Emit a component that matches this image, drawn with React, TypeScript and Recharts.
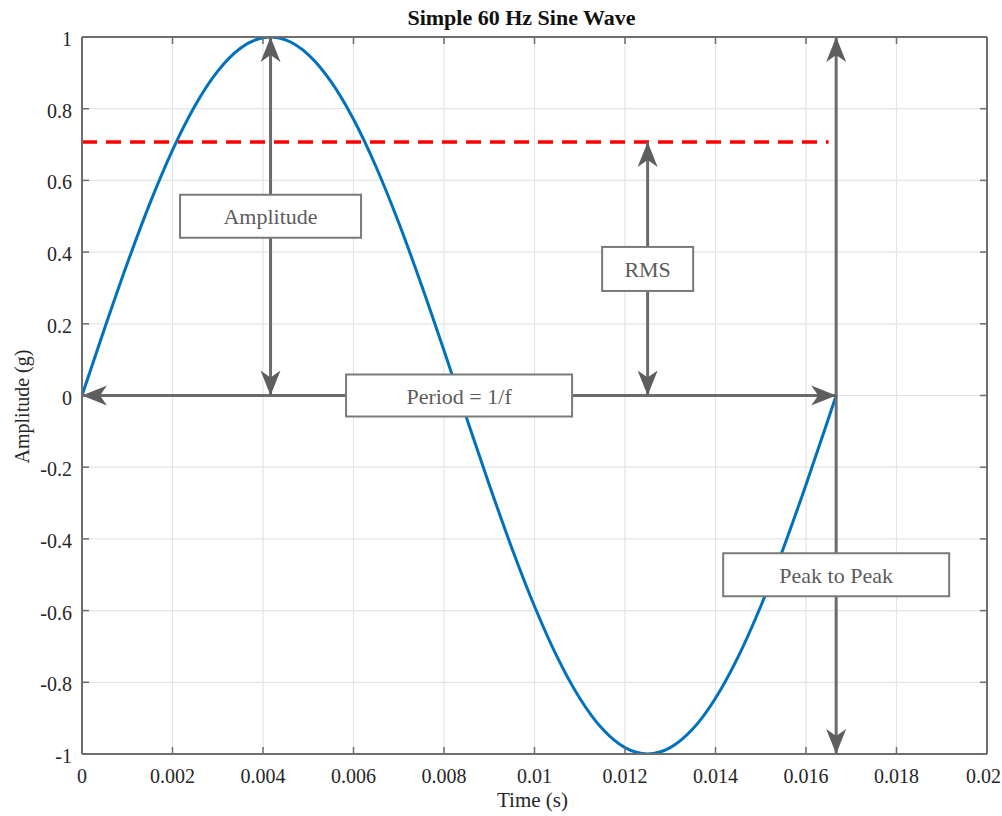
import React from 'react';
import {
  ComposedChart,
  Line,
  Scatter,
  XAxis,
  YAxis,
  CartesianGrid,
} from 'recharts';

// ---- data ----
const timeValues = [
  0, 0.0005, 0.001, 0.0015, 0.002, 0.0025, 0.003, 0.0035, 0.004, 0.0041667,
  0.0045, 0.005, 0.0055, 0.006, 0.0065, 0.007, 0.0075, 0.008, 0.0083333,
  0.0085, 0.009, 0.0095, 0.01, 0.0105, 0.011, 0.0115, 0.012, 0.0125, 0.013,
  0.0135, 0.014, 0.0145, 0.015, 0.0155, 0.016, 0.0165, 0.0166667,
];
const amplitudeValues = [
  0, 0.1874, 0.3681, 0.5358, 0.6845, 0.809, 0.9048, 0.9686, 0.998, 1,
  0.9921, 0.9511, 0.8763, 0.7705, 0.6374, 0.4818, 0.309, 0.1253, 0,
  -0.0628, -0.2487, -0.4258, -0.5878, -0.729, -0.8443, -0.9298, -0.9823, -1, -0.9823,
  -0.9298, -0.8443, -0.729, -0.5878, -0.4258, -0.2487, -0.0628, 0,
];
const rmsX = [0, 0.0165];
const rmsValue = 0.7071;

const xTicks = [0, 0.002, 0.004, 0.006, 0.008, 0.01, 0.012, 0.014, 0.016, 0.018, 0.02];
const yTicks = [-1, -0.8, -0.6, -0.4, -0.2, 0, 0.2, 0.4, 0.6, 0.8, 1];

const amplitudeArrow = [
  { x: 0.0041667, y: 0, dir: 'down' },
  { x: 0.0041667, y: 1, dir: 'up' },
];
const rmsArrow = [
  { x: 0.0125, y: 0, dir: 'down' },
  { x: 0.0125, y: 0.7071, dir: 'up' },
];
const periodArrow = [
  { x: 0, y: 0, dir: 'left' },
  { x: 0.0166667, y: 0, dir: 'right' },
];
const peakArrow = [
  { x: 0.0166667, y: -1, dir: 'down' },
  { x: 0.0166667, y: 1, dir: 'up' },
];

const annotationLabels = ['Amplitude', 'RMS', 'Period = 1/f', 'Peak to Peak'];
const annotationX = [0.0041667, 0.0125, 0.0083333, 0.0166667];
const annotationY = [0.5, 0.353, 0, -0.5];

const titleText = 'Simple 60 Hz Sine Wave';
const xLabelText = 'Time (s)';
const yLabelText = 'Amplitude (g)';

// ---- derived tables ----
const sineData = timeValues.map((t, i) => ({ x: t, y: amplitudeValues[i] }));
const rmsData = rmsX.map((t) => ({ x: t, y: rmsValue }));
const boxData = annotationLabels.map((label, i) => ({
  x: annotationX[i],
  y: annotationY[i],
  label,
}));

// ---- styles ----
const FONT = '"Liberation Serif", "Times New Roman", serif';
const AXIS_COLOR = '#6e6e6e';
const TICK_TEXT = '#262626';
const ARROW_COLOR = '#6b6b6b';
const BOX_SIZES: Record<string, [number, number]> = {
  Amplitude: [181, 43],
  RMS: [91, 44],
  'Period = 1/f': [226, 42],
  'Peak to Peak': [226, 43],
};

const fmt = (v: number) => String(v);

const BottomTick = (props: any) => {
  const { x, y, payload, index } = props;
  const last = index === xTicks.length - 1;
  return (
    <g>
      <line x1={x} y1={y} x2={x} y2={y - 7} stroke={AXIS_COLOR} strokeWidth={1.5} />
      <text
        x={last ? x + 14 : x}
        y={y + 29}
        textAnchor={last ? 'end' : 'middle'}
        fontFamily={FONT}
        fontSize={20}
        fill={TICK_TEXT}
      >
        {fmt(payload.value)}
      </text>
    </g>
  );
};
const TopTick = (props: any) => {
  const { x, y } = props;
  return <line x1={x} y1={y} x2={x} y2={y + 7} stroke={AXIS_COLOR} strokeWidth={1.5} />;
};
const LeftTick = (props: any) => {
  const { x, y, payload } = props;
  return (
    <g>
      <line x1={x} y1={y} x2={x + 7} y2={y} stroke={AXIS_COLOR} strokeWidth={1.5} />
      <text x={x - 10} y={y + 9} textAnchor="end" fontFamily={FONT} fontSize={20} fill={TICK_TEXT}>
        {fmt(payload.value)}
      </text>
    </g>
  );
};
const RightTick = (props: any) => {
  const { x, y } = props;
  return <line x1={x} y1={y} x2={x - 7} y2={y} stroke={AXIS_COLOR} strokeWidth={1.5} />;
};

const DIR_ANGLE: Record<string, number> = { up: 0, right: 90, down: 180, left: 270 };

const ArrowHead = (props: any) => {
  const { cx, cy, payload, index } = props;
  if (cx == null || cy == null) return <g key={`ah-${index}`} />;
  const a = DIR_ANGLE[payload.dir] ?? 0;
  return (
    <path
      key={`ah-${index}-${payload.dir}`}
      d="M0,0 L10,25 L0,18 L-10,25 Z"
      transform={`translate(${cx},${cy}) rotate(${a})`}
      fill="#5e5e5e"
      stroke="none"
    />
  );
};

const BoxShape = (props: any) => {
  const { cx, cy, payload } = props;
  if (cx == null || cy == null) return <g />;
  const [w, h] = BOX_SIZES[payload.label] ?? [120, 42];
  return (
    <g>
      <rect x={cx - w / 2} y={cy - h / 2} width={w} height={h} fill="#ffffff" stroke="#7a7a7a" strokeWidth={2} />
      <text x={cx} y={cy + 8} textAnchor="middle" fontFamily={FONT} fontSize={22} fill="#5c5c5c">
        {payload.label}
      </text>
    </g>
  );
};

const XLabel = (props: any) => {
  const vb = props.viewBox || { x: 82, y: 754, width: 905 };
  return (
    <text x={vb.x + vb.width / 2 - 2} y={vb.y + 53} textAnchor="middle" fontFamily={FONT} fontSize={21} fill={TICK_TEXT}>
      {xLabelText}
    </text>
  );
};
const YLabel = (props: any) => {
  const vb = props.viewBox || { x: 0, y: 37, height: 717 };
  const cx = vb.x + 29;
  const cy = vb.y + vb.height / 2 + 11;
  return (
    <text
      x={cx}
      y={cy}
      textAnchor="middle"
      transform={`rotate(-90 ${cx} ${cy})`}
      fontFamily={FONT}
      fontSize={20}
      fill={TICK_TEXT}
    >
      {yLabelText}
    </text>
  );
};

export default function App() {
  return (
    <div style={{ position: 'absolute', left: 0, top: 0, width: 1002, height: 816, background: '#fff' }}>
      <div
        style={{
          position: 'absolute',
          left: 0,
          top: 5,
          width: 1043,
          textAlign: 'center',
          fontFamily: FONT,
          fontWeight: 'bold',
          fontSize: 22,
          lineHeight: '26px',
          color: '#111',
          whiteSpace: 'nowrap',
        }}
      >
        {titleText}
      </div>
      <div style={{ position: 'absolute', left: 0, top: 0 }}>
        <ComposedChart width={1002} height={816} margin={{ top: 36, right: 14, bottom: 0, left: 0 }}>
          <CartesianGrid stroke="#e4e4e4" strokeWidth={1.2} />
          <XAxis
            dataKey="x"
            type="number"
            domain={[0, 0.02]}
            ticks={xTicks}
            interval={0}
            height={62}
            tickSize={0}
            tickMargin={0}
            tick={<BottomTick />}
            axisLine={{ stroke: AXIS_COLOR, strokeWidth: 2 }}
            tickLine={false}
            allowDataOverflow
            label={{ content: XLabel }}
          />
          <XAxis
            xAxisId="top"
            orientation="top"
            dataKey="x"
            type="number"
            domain={[0, 0.02]}
            ticks={xTicks}
            interval={0}
            height={1}
            tickSize={0}
            tickMargin={0}
            tick={<TopTick />}
            axisLine={{ stroke: AXIS_COLOR, strokeWidth: 2 }}
            tickLine={false}
            allowDataOverflow
          />
          <YAxis
            type="number"
            domain={[-1, 1]}
            ticks={yTicks}
            interval={0}
            width={82}
            tickSize={0}
            tickMargin={0}
            tick={<LeftTick />}
            axisLine={{ stroke: AXIS_COLOR, strokeWidth: 2 }}
            tickLine={false}
            allowDataOverflow
            label={{ content: YLabel }}
          />
          <YAxis
            yAxisId="right"
            orientation="right"
            type="number"
            domain={[-1, 1]}
            ticks={yTicks}
            interval={0}
            width={1}
            tickSize={0}
            tickMargin={0}
            tick={<RightTick />}
            axisLine={{ stroke: AXIS_COLOR, strokeWidth: 2 }}
            tickLine={false}
            allowDataOverflow
          />
          <Line data={sineData} dataKey="y" type="monotone" stroke="#0072BD" strokeWidth={3} dot={false} activeDot={false} isAnimationActive={false} />
          <Line
            data={rmsData}
            xAxisId="top"
            yAxisId="right"
            dataKey="y"
            type="linear"
            stroke="#ff0000"
            strokeWidth={3.5}
            strokeDasharray="15 9"
            dot={false}
            activeDot={false}
            isAnimationActive={false}
          />
          <Line data={amplitudeArrow} dataKey="y" type="linear" stroke={ARROW_COLOR} strokeWidth={3} dot={ArrowHead} activeDot={false} isAnimationActive={false} />
          <Line data={rmsArrow} dataKey="y" type="linear" stroke={ARROW_COLOR} strokeWidth={3} dot={ArrowHead} activeDot={false} isAnimationActive={false} />
          <Line data={periodArrow} dataKey="y" type="linear" stroke={ARROW_COLOR} strokeWidth={3} dot={ArrowHead} activeDot={false} isAnimationActive={false} />
          <Line data={peakArrow} dataKey="y" type="linear" stroke={ARROW_COLOR} strokeWidth={3} dot={ArrowHead} activeDot={false} isAnimationActive={false} />
          <Scatter data={boxData} dataKey="y" shape={BoxShape} isAnimationActive={false} />
        </ComposedChart>
      </div>
    </div>
  );
}
